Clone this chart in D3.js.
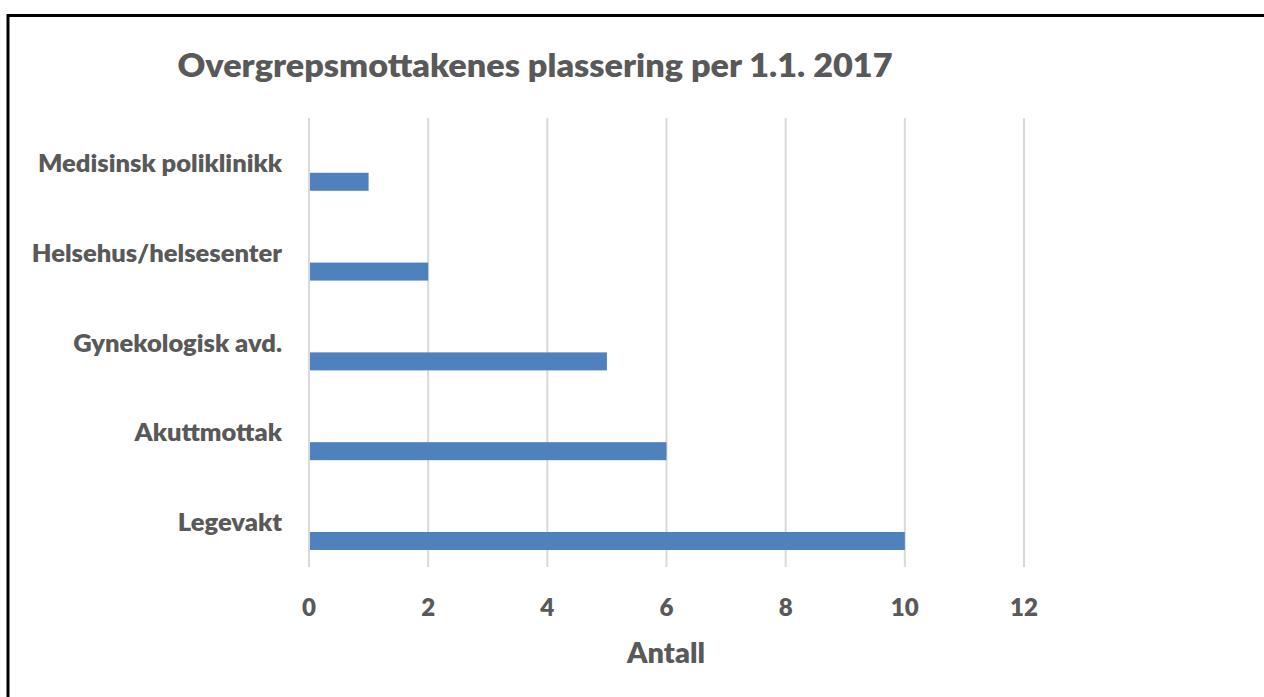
<!DOCTYPE html>
<html><head><meta charset="utf-8">
<script src="https://cdn.jsdelivr.net/npm/d3@7"></script>
<style>body{margin:0;background:#fff;}svg{display:block;}</style>
</head><body>
<svg id="chart" width="1264" height="697"></svg>
<script>
const categories = ["Medisinsk poliklinikk","Helsehus/helsesenter","Gynekologisk avd.","Akuttmottak","Legevakt"];
const values = [1,2,5,6,10];
const tickValues = [0,2,4,6,8,10,12];
const title = "Overgrepsmottakenes plassering per 1.1. 2017";
const xTitle = "Antall";

(function(){
const svg = d3.select("#chart");
const font = "Lato, 'Open Sans', sans-serif";
const textColor = "#595959";
const pLeft = 309, pRight = 1024, pTop = 118, pBottom = 567;

const x = d3.scaleLinear().domain([0,12]).range([pLeft,pRight]);
const y = d3.scaleBand().domain(categories).range([pTop,pBottom]);

// frame
svg.append("path").attr("d","M8,697 L8,15.5 L1264,15.5").attr("fill","none").attr("stroke","#000").attr("stroke-width",3);

// grid
svg.append("g").selectAll("line").data(tickValues).join("line")
  .attr("x1",d=>x(d)).attr("x2",d=>x(d)).attr("y1",pTop).attr("y2",pBottom)
  .attr("stroke","#d9d9d9").attr("stroke-width",2);

// bars
const barH = 18;
svg.append("g").selectAll("rect").data(values).join("rect")
  .attr("x",x(0)+1).attr("y",(d,i)=>y(categories[i])+y.bandwidth()*0.61)
  .attr("width",d=>x(d)-x(0)-1).attr("height",barH).attr("fill","#4f81bd");

function squeeze(sel, f){
  sel.each(function(){
    const len = this.getComputedTextLength();
    d3.select(this).attr("textLength", len*f).attr("lengthAdjust","spacingAndGlyphs");
  });
}

// category labels
const cats = svg.append("g").selectAll("text").data(categories).join("text")
  .attr("x",282).attr("y",d=>y(d)+y.bandwidth()/2)
  .attr("text-anchor","end").attr("dominant-baseline","central")
  .attr("font-family",font).attr("font-weight",800).attr("font-size",23.5)
  .attr("fill",textColor).text(d=>d);
const f = 244 / cats.nodes()[0].getComputedTextLength();
squeeze(cats, f);

// tick labels
const ticks = svg.append("g").selectAll("text").data(tickValues).join("text")
  .attr("x",d=>x(d)).attr("y",606).attr("text-anchor","middle").attr("dominant-baseline","central")
  .attr("font-family",font).attr("font-weight",800).attr("font-size",25)
  .attr("fill",textColor).text(d=>d);
const ft = 28 / ticks.nodes()[5].getComputedTextLength();
squeeze(ticks, ft);

// title
const t = svg.append("text").attr("x",535).attr("y",64).attr("text-anchor","middle").attr("dominant-baseline","central")
  .attr("font-family",font).attr("font-weight",800).attr("font-size",32.5).attr("fill",textColor).text(title);
t.attr("textLength",715).attr("lengthAdjust","spacingAndGlyphs");

const at = svg.append("text").attr("x",666).attr("y",652).attr("text-anchor","middle").attr("dominant-baseline","central")
  .attr("font-family",font).attr("font-weight",800).attr("font-size",27.5).attr("fill",textColor).text(xTitle);
at.attr("textLength",78).attr("lengthAdjust","spacingAndGlyphs");
})();
</script>
</body></html>
